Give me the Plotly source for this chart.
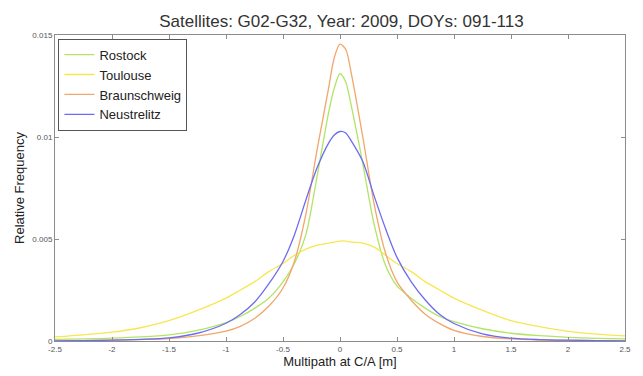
import plotly.graph_objects as go

# ---- data ----
x_vals = [-2.5, -2.25, -2.0, -1.75, -1.5, -1.25, -1.0, -0.875, -0.75, -0.625, -0.5, -0.4, -0.3, -0.2, -0.1, -0.05,
          0.0, 0.05, 0.1, 0.2, 0.3, 0.4, 0.5, 0.625, 0.75, 0.875, 1.0, 1.25, 1.5, 1.75, 2.0, 2.25, 2.5]

rostock = [0.00008, 0.0001, 0.00014, 0.0002, 0.0003, 0.00052, 0.0009, 0.0012, 0.0016, 0.0021, 0.0029, 0.0038, 0.0052,
           0.0081, 0.0112, 0.0124, 0.0131, 0.0127, 0.0115, 0.0087, 0.0057, 0.0037, 0.0027, 0.0021, 0.0016, 0.0012,
           0.00095, 0.0006, 0.00038, 0.00026, 0.00018, 0.00013, 0.0001]

toulouse = [0.0002, 0.0003, 0.00043, 0.00065, 0.001, 0.0015, 0.0021, 0.0025, 0.0029, 0.0034, 0.0038, 0.0042, 0.0045,
            0.0047, 0.0048, 0.00485, 0.0049, 0.0049, 0.00485, 0.0048, 0.0046, 0.0042, 0.0038, 0.0034, 0.0029, 0.0025,
            0.0021, 0.0015, 0.001, 0.0007, 0.00047, 0.00034, 0.00025]

braunschweig = [0.00001, 0.00002, 0.00004, 0.00007, 0.00012, 0.00025, 0.00048, 0.00072, 0.0011, 0.0017, 0.0026, 0.0039,
                0.0062, 0.0094, 0.0124, 0.0139, 0.01455, 0.0143, 0.0131, 0.0100, 0.0067, 0.0043, 0.0029, 0.0020,
                0.0013, 0.00085, 0.00052, 0.00022, 0.0001, 0.00005, 0.00003, 0.00002, 0.00001]

neustrelitz = [0.00001, 0.00002, 0.00004, 0.00008, 0.00015, 0.00038, 0.00087, 0.0013, 0.0019, 0.0028, 0.0039, 0.0052,
               0.0069, 0.0085, 0.0097, 0.0101, 0.01027, 0.0102, 0.0098, 0.0088, 0.0071, 0.0055, 0.0041, 0.0029,
               0.0020, 0.0013, 0.00086, 0.00035, 0.00014, 0.00007, 0.00004, 0.00002, 0.00001]

series_names = ["Rostock", "Toulouse", "Braunschweig", "Neustrelitz"]
series_colors = ["#b2e466", "#f8e650", "#f1a66c", "#6c6cf2"]
series_values = [rostock, toulouse, braunschweig, neustrelitz]

x_tick_vals = [-2.5, -2.0, -1.5, -1.0, -0.5, 0.0, 0.5, 1.0, 1.5, 2.0, 2.5]
x_tick_text = ["-2.5", "-2", "-1.5", "-1", "-0.5", "0", "0.5", "1", "1.5", "2", "2.5"]
y_tick_vals = [0, 0.005, 0.01, 0.015]
y_tick_text = ["0", "0.005", "0.01", "0.015"]

FONT = "Liberation Sans, Arial, sans-serif"

fig = go.Figure()
for name, color, vals in zip(series_names, series_colors, series_values):
    fig.add_trace(go.Scatter(x=x_vals, y=vals, mode="lines", name=name,
                             line=dict(color=color, width=1.3, shape="spline", smoothing=0.8)))

axis_common = dict(showgrid=False, zeroline=False, showline=True, linecolor="#8c8c8c", linewidth=1,
                   mirror="ticks", ticks="inside", ticklen=4, tickcolor="#8c8c8c",
                   tickfont=dict(family=FONT, size=8, color="#555555"))

fig.update_layout(
    width=643, height=376,
    margin=dict(l=55, r=15, t=35, b=28),
    paper_bgcolor="white", plot_bgcolor="white",
    title=dict(text="Satellites: G02-G32, Year: 2009, DOYs: 091-113",
               x=0.531, xanchor="center", y=0.945, yanchor="middle",
               font=dict(family=FONT, size=17, color="#333333")),
    xaxis=dict(range=[-2.5, 2.5], tickvals=x_tick_vals, ticktext=x_tick_text,
               title=dict(text="Multipath at C/A [m]", standoff=1,
                          font=dict(family=FONT, size=13, color="#222222")),
               **axis_common),
    yaxis=dict(range=[0, 0.015], tickvals=y_tick_vals, ticktext=y_tick_text,
               title=dict(text="Relative Frequency", standoff=4,
                          font=dict(family=FONT, size=13, color="#222222")),
               **axis_common),
    legend=dict(x=0.006, y=0.988, xanchor="left", yanchor="top",
                bgcolor="white", bordercolor="#555555", borderwidth=1,
                font=dict(family=FONT, size=13, color="#222222"),
                itemwidth=30, tracegroupgap=0),
    showlegend=True,
)

fig.write_html("out.html")
